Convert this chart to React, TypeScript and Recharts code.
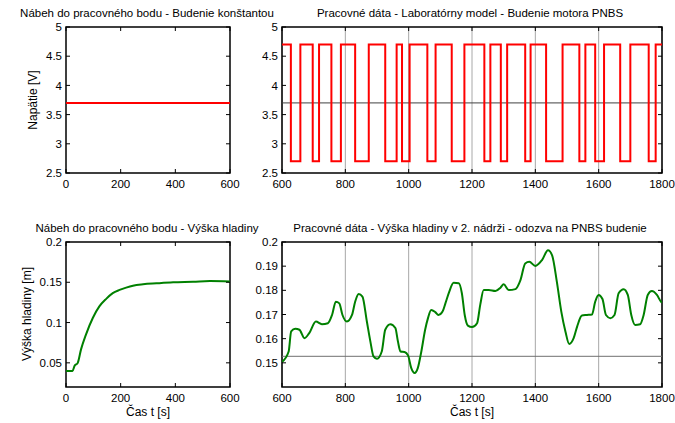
import {
  LineChart,
  Line,
  XAxis,
  YAxis,
  CartesianGrid,
  ReferenceLine,
  ReferenceArea,
} from "recharts";

const FONT = "'Liberation Sans', Arial, sans-serif";

// run-up: constant excitation voltage
const runupTime = [0, 600];
const runupVoltage = [3.7, 3.7];

// PNBS excitation: switching instants [s] and voltage held after each one [V]
const pnbsTime = [
  600, 628, 658, 697, 717, 756, 786, 831, 874, 926, 962, 979, 1003, 1059, 1085,
  1136, 1176, 1239, 1258, 1291, 1311, 1368, 1385, 1434, 1486, 1539, 1558, 1589,
  1617, 1668, 1700, 1758, 1780, 1800,
];
const pnbsVoltage = [
  4.7, 2.7, 4.7, 2.7, 4.7, 2.7, 4.7, 2.7, 4.7, 2.7, 4.7, 2.7, 4.7, 2.7, 4.7,
  2.7, 4.7, 2.7, 4.7, 2.7, 4.7, 2.7, 4.7, 2.7, 4.7, 2.7, 4.7, 2.7, 4.7, 2.7,
  4.7, 2.7, 4.7, 4.7,
];
const operatingVoltage = 3.7;

// run-up of the level in tank 2
const levelRunupTime = [
  0, 24, 31, 43, 55, 73, 98, 122, 147, 171, 196, 220, 245, 282, 331, 392, 465,
  527, 600,
];
const levelRunup = [
  0.04, 0.04, 0.046, 0.05, 0.0667, 0.0851, 0.1057, 0.12, 0.1294, 0.1365, 0.1405,
  0.1434, 0.1458, 0.1475, 0.1487, 0.15, 0.1507, 0.1516, 0.151,
];

// level response to the PNBS excitation
const levelPnbsTime = [
  600, 621, 629, 642, 655, 671, 686, 707, 726, 745, 758, 770, 781, 791, 805, 821,
  831, 842, 854, 868, 879, 889, 900, 915, 926, 942, 958, 966, 974, 987, 998,
  1008, 1019, 1029, 1040, 1052, 1061, 1071, 1084, 1094, 1107, 1116, 1128, 1142,
  1158, 1168, 1177, 1187, 1200, 1216, 1226, 1237, 1253, 1274, 1290, 1300, 1316,
  1337, 1353, 1368, 1381, 1400, 1421, 1440, 1453, 1468, 1482, 1495, 1507, 1521,
  1532, 1547, 1563, 1579, 1589, 1600, 1612, 1623, 1637, 1650, 1663, 1679, 1692,
  1703, 1715, 1731, 1742, 1755, 1768, 1784, 1797, 1800,
];
const levelPnbs = [
  0.1504, 0.1547, 0.163, 0.1641, 0.1637, 0.1602, 0.1623, 0.1671, 0.166, 0.1664,
  0.1698, 0.1753, 0.1746, 0.1698, 0.1671, 0.1698, 0.1753, 0.1785, 0.1774,
  0.1671, 0.1589, 0.1527, 0.1517, 0.1547, 0.1637, 0.166, 0.1644, 0.1589, 0.1547,
  0.1545, 0.1531, 0.1479, 0.1458, 0.1479, 0.1547, 0.1637, 0.1685, 0.1719, 0.171,
  0.1698, 0.1712, 0.1746, 0.1794, 0.1831, 0.1829, 0.1788, 0.1698, 0.1654,
  0.1648, 0.1664, 0.174, 0.1801, 0.1801, 0.1797, 0.1811, 0.1825, 0.1801, 0.1805,
  0.1842, 0.1911, 0.1918, 0.1901, 0.1925, 0.1966, 0.1945, 0.1835, 0.1712, 0.163,
  0.1578, 0.1602, 0.165, 0.1696, 0.1698, 0.17, 0.1753, 0.1781, 0.1764, 0.1698,
  0.1685, 0.1698, 0.1788, 0.1805, 0.1781, 0.1698, 0.1657, 0.166, 0.1698, 0.1781,
  0.1797, 0.1781, 0.1753, 0.175,
];
const operatingLevel = 0.1527;

const voltageTicks = [2.5, 3, 3.5, 4, 4.5, 5];
const runupLevelTicks = [0.05, 0.1, 0.15, 0.2];
const pnbsLevelTicks = [0.15, 0.16, 0.17, 0.18, 0.19, 0.2];
const runupTimeTicks = [0, 200, 400, 600];
const pnbsTimeTicks = [600, 800, 1000, 1200, 1400, 1600, 1800];

const toRows = (t: number[], v: number[]) => t.map((x, i) => ({ t: x, v: v[i] }));

const GAP = 6;
const TICK = 4;
const YW = 50;
const XH = 24;
const PAD_T = 10;
const PAD_R = 20;
const TICK_FONT = 11.5;

// ticks drawn inward on both opposite sides, label outside (MATLAB style)
function bottomTick(plotH: number) {
  return (p: any) => {
    const ay = p.y - GAP;
    return (
      <g>
        <line x1={p.x} x2={p.x} y1={ay} y2={ay - TICK} stroke="#000" />
        <line x1={p.x} x2={p.x} y1={ay - plotH} y2={ay - plotH + TICK} stroke="#000" />
        <text x={p.x} y={p.y} dy="0.75em" textAnchor="middle" fontSize={TICK_FONT} fontFamily={FONT} fill="#000">
          {String(p.payload.value)}
        </text>
      </g>
    );
  };
}

function leftTick(plotW: number) {
  return (p: any) => {
    const ax = p.x + GAP;
    return (
      <g>
        <line x1={ax} x2={ax + TICK} y1={p.y} y2={p.y} stroke="#000" />
        <line x1={ax + plotW} x2={ax + plotW - TICK} y1={p.y} y2={p.y} stroke="#000" />
        <text x={p.x + 2} y={p.y} dy="0.36em" textAnchor="end" fontSize={TICK_FONT} fontFamily={FONT} fill="#000">
          {String(p.payload.value)}
        </text>
      </g>
    );
  };
}

interface PanelProps {
  left: number;
  top: number;
  plotW: number;
  plotH: number;
  rows: { t: number; v: number }[];
  xDomain: [number, number];
  yDomain: [number, number];
  xTicks: number[];
  yTicks: number[];
  color: string;
  kind: "linear" | "stepAfter" | "monotone";
  grid?: boolean;
  refY?: number;
  refColor?: string;
}

function Panel(props: PanelProps) {
  const { left, top, plotW, plotH, rows, xDomain, yDomain, xTicks, yTicks } = props;
  return (
    <div style={{ position: "absolute", left: left - YW, top: top - PAD_T }}>
      <LineChart
        width={YW + plotW + PAD_R}
        height={PAD_T + plotH + XH}
        data={rows}
        margin={{ top: PAD_T, right: PAD_R, left: 0, bottom: 0 }}
      >
        {props.grid && (
          <CartesianGrid horizontal={false} stroke="#a8a8a8" strokeWidth={1} />
        )}
        <XAxis
          dataKey="t"
          type="number"
          domain={xDomain}
          ticks={xTicks}
          interval={0}
          allowDataOverflow
          height={XH}
          axisLine={false}
          tickLine={false}
          tickSize={0}
          tickMargin={GAP}
          tick={bottomTick(plotH)}
        />
        <YAxis
          type="number"
          domain={yDomain}
          ticks={yTicks}
          interval={0}
          allowDataOverflow
          width={YW}
          axisLine={false}
          tickLine={false}
          tickSize={0}
          tickMargin={GAP}
          tick={leftTick(plotW)}
        />
        {props.refY !== undefined && (
          <ReferenceLine y={props.refY} stroke={props.refColor} strokeWidth={1} />
        )}
        <Line
          dataKey="v"
          type={props.kind}
          stroke={props.color}
          strokeWidth={2}
          dot={false}
          isAnimationActive={false}
        />
        <ReferenceArea
          x1={xDomain[0]}
          x2={xDomain[1]}
          y1={yDomain[0]}
          y2={yDomain[1]}
          fill="none"
          stroke="#000"
          strokeWidth={1.5}
        />
      </LineChart>
    </div>
  );
}

const textStyle = { fontFamily: FONT, fill: "#000" };

export default function App() {
  return (
    <div
      style={{
        position: "absolute",
        left: 0,
        top: 0,
        width: 675,
        height: 423,
        background: "#fff",
        overflow: "hidden",
      }}
    >
      <Panel
        left={66}
        top={27}
        plotW={164}
        plotH={146}
        rows={toRows(runupTime, runupVoltage)}
        xDomain={[0, 600]}
        yDomain={[2.5, 5]}
        xTicks={runupTimeTicks}
        yTicks={voltageTicks}
        color="#ff0000"
        kind="linear"
      />
      <Panel
        left={282}
        top={27}
        plotW={380}
        plotH={146}
        rows={toRows(pnbsTime, pnbsVoltage)}
        xDomain={[600, 1800]}
        yDomain={[2.5, 5]}
        xTicks={pnbsTimeTicks}
        yTicks={voltageTicks}
        color="#ff0000"
        kind="stepAfter"
        grid
        refY={operatingVoltage}
        refColor="#404040"
      />
      <Panel
        left={66}
        top={242}
        plotW={164}
        plotH={145}
        rows={toRows(levelRunupTime, levelRunup)}
        xDomain={[0, 600]}
        yDomain={[0.02, 0.2]}
        xTicks={runupTimeTicks}
        yTicks={runupLevelTicks}
        color="#008000"
        kind="monotone"
      />
      <Panel
        left={282}
        top={242}
        plotW={380}
        plotH={145}
        rows={toRows(levelPnbsTime, levelPnbs)}
        xDomain={[600, 1800]}
        yDomain={[0.14, 0.2]}
        xTicks={pnbsTimeTicks}
        yTicks={pnbsLevelTicks}
        color="#008000"
        kind="monotone"
        grid
        refY={operatingLevel}
        refColor="#707070"
      />
      <svg
        width={675}
        height={423}
        style={{ position: "absolute", left: 0, top: 0, pointerEvents: "none" }}
      >
        <g fontSize={11.5} style={textStyle}>
          <text x={147} y={17} textAnchor="middle">
            Nábeh do pracovného bodu - Budenie konštantou
          </text>
          <text x={470} y={17} textAnchor="middle">
            Pracovné dáta - Laboratórny model - Budenie motora PNBS
          </text>
          <text x={147} y={232} textAnchor="middle">
            Nábeh do pracovného bodu - Výška hladiny
          </text>
          <text x={470} y={232} textAnchor="middle">
            Pracovné dáta - Výška hladiny v 2. nádrži - odozva na PNBS budenie
          </text>
        </g>
        <g fontSize={12} style={textStyle}>
          <text x={148} y={416} textAnchor="middle">
            Čas t [s]
          </text>
          <text x={472} y={416} textAnchor="middle">
            Čas t [s]
          </text>
          <text transform="translate(37,100) rotate(-90)" textAnchor="middle">
            Napätie [V]
          </text>
          <text transform="translate(31,314) rotate(-90)" textAnchor="middle">
            Výška hladiny [m]
          </text>
        </g>
      </svg>
    </div>
  );
}
